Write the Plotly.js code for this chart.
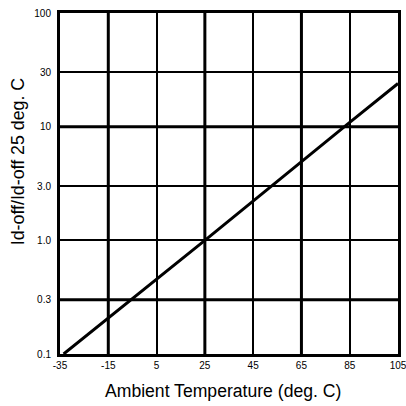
<!DOCTYPE html>
<html><head><meta charset="utf-8">
<script src="https://cdn.plot.ly/plotly-3.0.1.min.js"></script>
<style>html,body{margin:0;padding:0;background:#fff}#c{width:406px;height:406px}</style>
</head><body><div id="c"></div>
<script>
const xTickVals = [-35, -15, 5, 25, 45, 65, 85, 105];
const xTickText = ["-35", "-15", "5", "25", "45", "65", "85", "105"];
const yTickVals = [0.1, 0.3, 1, 3, 10, 30, 100];
const yTickText = ["0.1", "0.3", "1.0", "3.0", "10", "30", "100"];
const temperature = [-33.5, 25, 85, 105];
const ratio = [0.1, 1.0, 10.9, 24];
const thickX = [-15, 25, 65];
const thickY = [0.3, 10];
const xTitle = 'Ambient Temperature (deg. C)';
const yTitle = 'Id-off/Id-off 25 deg. C';

const shapes = [];
thickX.forEach(v => shapes.push({type:'line', xref:'x', yref:'paper', x0:v, x1:v, y0:0, y1:1, line:{color:'#000', width:3}, layer:'below'}));
thickY.forEach(v => shapes.push({type:'line', xref:'paper', yref:'y', x0:0, x1:1, y0:v, y1:v, line:{color:'#000', width:3}, layer:'below'}));

const fam = '"Liberation Sans", Arial, sans-serif';
Plotly.newPlot('c', [{
  x: temperature, y: ratio, type:'scatter', mode:'lines',
  line:{color:'#000', width:3}, hoverinfo:'skip'
}], {
  width:406, height:406,
  margin:{l:60, r:8, t:13, b:52},
  paper_bgcolor:'#fff', plot_bgcolor:'#fff',
  showlegend:false,
  font:{size:10, family:fam, color:'#000'},
  shapes: shapes,
  annotations:[
    {text:xTitle, xref:'paper', yref:'paper', x:0.4837, y:-0.108, xanchor:'center', yanchor:'middle', showarrow:false, font:{size:17.6, family:fam, color:'#000'}},
    {text:yTitle, xref:'paper', yref:'paper', x:-0.125, y:0.5645, xanchor:'center', yanchor:'middle', textangle:-90, showarrow:false, font:{size:17.8, family:fam, color:'#000'}}
  ],
  xaxis:{
    range:[-35, 105], tickvals:xTickVals, ticktext:xTickText,
    showgrid:true, gridcolor:'#000', gridwidth:2,
    showline:true, mirror:true, linecolor:'#000', linewidth:3,
    ticks:'', ticklabelstandoff:0, zeroline:false, ticklabeloverflow:'allow',
    tickfont:{size:10, family:fam, color:'#000'}
  },
  yaxis:{
    type:'log', range:[-1, 2], tickvals:yTickVals, ticktext:yTickText,
    showgrid:true, gridcolor:'#000', gridwidth:2,
    showline:true, mirror:true, linecolor:'#000', linewidth:3,
    ticks:'', ticklabelstandoff:4, zeroline:false,
    tickfont:{size:10, family:fam, color:'#000'}
  }
}, {staticPlot:true, displayModeBar:false});
</script>
</body></html>
